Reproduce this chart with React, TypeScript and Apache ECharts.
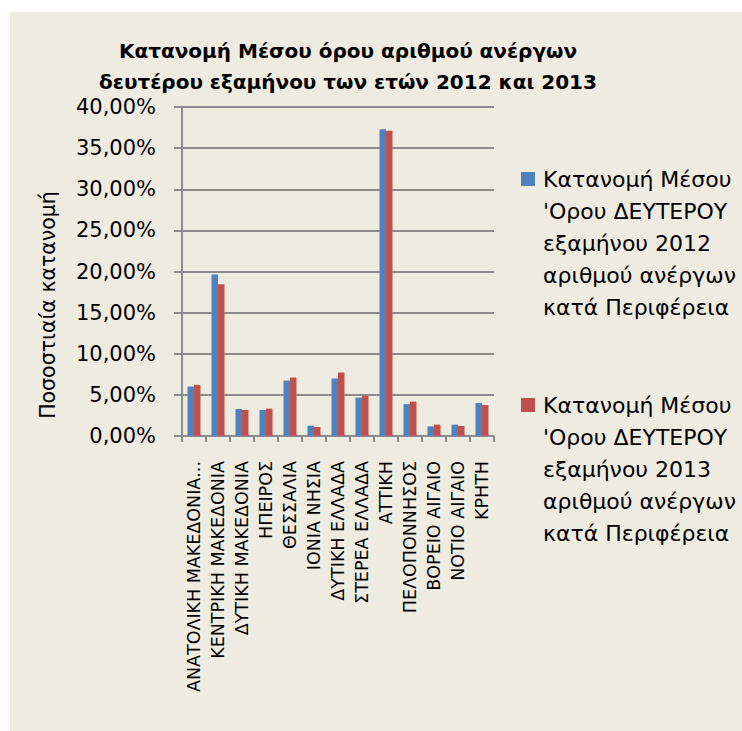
import React, { useEffect, useRef } from "react";
import * as echarts from "echarts";

const categories = [
  "ΑΝΑΤΟΛΙΚΗ ΜΑΚΕΔΟΝΙΑ ΚΑΙ ΘΡΑΚΗ",
  "ΚΕΝΤΡΙΚΗ ΜΑΚΕΔΟΝΙΑ",
  "ΔΥΤΙΚΗ ΜΑΚΕΔΟΝΙΑ",
  "ΗΠΕΙΡΟΣ",
  "ΘΕΣΣΑΛΙΑ",
  "ΙΟΝΙΑ ΝΗΣΙΑ",
  "ΔΥΤΙΚΗ ΕΛΛΑΔΑ",
  "ΣΤΕΡΕΑ ΕΛΛΑΔΑ",
  "ΑΤΤΙΚΗ",
  "ΠΕΛΟΠΟΝΝΗΣΟΣ",
  "ΒΟΡΕΙΟ ΑΙΓΑΙΟ",
  "ΝΟΤΙΟ ΑΙΓΑΙΟ",
  "ΚΡΗΤΗ",
];

const values2012 = [6.01, 19.63, 3.29, 3.17, 6.74, 1.26, 6.99, 4.67, 37.3, 3.87, 1.17, 1.38, 4.0];
const values2013 = [6.22, 18.45, 3.17, 3.33, 7.11, 1.1, 7.72, 4.88, 37.1, 4.18, 1.38, 1.22, 3.76];

const seriesNames = [
  "Κατανομή Μέσου 'Ορου ΔΕΥΤΕΡΟΥ εξαμήνου 2012 αριθμού ανέργων κατά Περιφέρεια",
  "Κατανομή Μέσου 'Ορου ΔΕΥΤΕΡΟΥ εξαμήνου 2013 αριθμού ανέργων κατά Περιφέρεια",
];
const legendLines = [
  ["Κατανομή Μέσου", "'Ορου ΔΕΥΤΕΡΟΥ", "εξαμήνου 2012", "αριθμού ανέργων", "κατά Περιφέρεια"],
  ["Κατανομή Μέσου", "'Ορου ΔΕΥΤΕΡΟΥ", "εξαμήνου 2013", "αριθμού ανέργων", "κατά Περιφέρεια"],
];
const seriesColors = ["#4F81BD", "#C0504D"];

const titleText = "Κατανομή Μέσου όρου αριθμού ανέργων\nδευτέρου εξαμήνου των ετών 2012 και 2013";
const yAxisName = "Ποσοστιαία κατανομή";

const FONT = "'DejaVu Sans', sans-serif";

export default function App() {
  const ref = useRef<HTMLDivElement>(null);

  useEffect(() => {
    if (!ref.current) return;
    const chart = echarts.init(ref.current, undefined, { renderer: "svg" });
    const legendGraphics: any[] = [];
    const legendTops = [172, 398];
    legendLines.forEach((lines, i) => {
      legendGraphics.push({
        type: "rect",
        shape: { x: 521, y: legendTops[i], width: 14, height: 14 },
        style: { fill: seriesColors[i] },
      });
      legendGraphics.push({
        type: "text",
        x: 543,
        y: legendTops[i] + 7 - 16,
        style: {
          text: lines.join("\n"),
          font: `22px ${FONT}`,
          fill: "#000",
          lineHeight: 32,
          verticalAlign: "top",
          align: "left",
        },
      });
    });

    chart.setOption({
      animation: false,
      backgroundColor: "transparent",
      textStyle: { fontFamily: FONT },
      title: {
        text: titleText,
        left: 343,
        textAlign: "center",
        top: 30,
        textStyle: {
          fontFamily: FONT,
          fontWeight: "bold",
          fontSize: 20,
          lineHeight: 31,
          color: "#000",
        },
      },
      legend: { show: false },
      grid: { left: 182, right: 248, top: 107, bottom: 295, containLabel: false },
      xAxis: {
        type: "category",
        data: categories,
        axisLine: { lineStyle: { color: "#8c8c8c", width: 2 } },
        axisTick: { show: true, length: 6, lineStyle: { color: "#8c8c8c", width: 2 } },
        axisLabel: {
          rotate: 90,
          interval: 0,
          margin: 25,
          color: "#000",
          fontSize: 17.5,
          fontFamily: FONT,
          formatter: (v: string) => (v.length > 20 ? v.slice(0, 19) + "..." : v),
        },
      },
      yAxis: {
        type: "value",
        min: 0,
        max: 40,
        interval: 5,
        axisLine: { show: true, lineStyle: { color: "#8c8c8c", width: 2 } },
        axisTick: { show: true, length: 8, lineStyle: { color: "#8c8c8c", width: 2 } },
        splitLine: { show: true, lineStyle: { color: "#8c8c8c", width: 2 } },
        axisLabel: {
          margin: 26,
          color: "#000",
          fontSize: 21,
          fontFamily: FONT,
          formatter: (v: number) => v.toFixed(2).replace(".", ",") + "%",
        },
      },
      series: [
        {
          type: "bar",
          name: seriesNames[0],
          data: values2012,
          barWidth: 6.5,
          barGap: "0%",
          itemStyle: { color: seriesColors[0] },
        },
        {
          type: "bar",
          name: seriesNames[1],
          data: values2013,
          barWidth: 6.5,
          barGap: "0%",
          itemStyle: { color: seriesColors[1] },
        },
      ],
      graphic: [
        {
          type: "text",
          x: 48,
          y: 305,
          rotation: Math.PI / 2,
          style: {
            text: yAxisName,
            font: `20.5px ${FONT}`,
            fill: "#000",
            align: "center",
            verticalAlign: "middle",
          },
        },
        ...legendGraphics,
      ],
    });
    return () => chart.dispose();
  }, []);

  return (
    <div style={{ position: "absolute", left: 0, top: 0, width: 742, height: 731, background: "#fff" }}>
      <div style={{ position: "absolute", left: 10, top: 12, width: 732, height: 719, background: "#EEECE1" }} />
      <div ref={ref} style={{ position: "absolute", left: 0, top: 0, width: 742, height: 731 }} />
    </div>
  );
}
